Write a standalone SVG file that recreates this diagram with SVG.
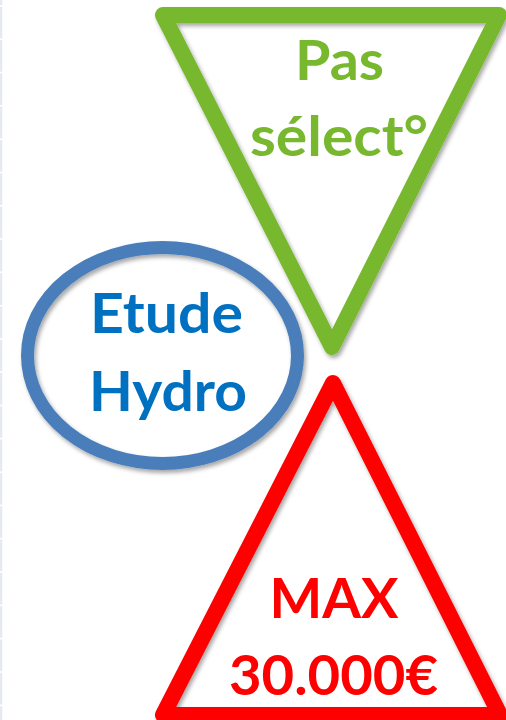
<svg xmlns="http://www.w3.org/2000/svg" width="506" height="720" viewBox="0 0 506 720">
  <defs>
    <filter id="sh" x="-10%" y="-10%" width="125%" height="125%">
      <feDropShadow dx="2" dy="3" stdDeviation="2" flood-color="#000" flood-opacity="0.35"/>
    </filter>
  </defs>
  <style>
    .lbl { font-family: Lato, "Open Sans", "Liberation Sans", sans-serif; font-weight: 700; font-size: 56px; text-anchor: middle; }
    .shape { fill: none; stroke-linejoin: round; filter: url(#sh); }
  </style>
  <rect x="0" y="0" width="506" height="720" fill="#ffffff"/>
  <line x1="1" y1="0" x2="1" y2="720" stroke="#e6e9ef" stroke-width="2.5" stroke-dasharray="31.8 1.5" stroke-dashoffset="26.6"/>

  <g id="connectors"></g>

  <g id="node-pas-select">
    <polygon class="shape" points="163,15 499,15 332,347" stroke="#78b82e" stroke-width="16"/>
    <text class="lbl" x="339.5" y="80" fill="#78b82e" textLength="89" lengthAdjust="spacingAndGlyphs">Pas</text>
    <text class="lbl" x="339" y="156" fill="#78b82e" textLength="178" lengthAdjust="spacingAndGlyphs">sélect°</text>
  </g>

  <g id="node-etude-hydro">
    <ellipse class="shape" cx="162.5" cy="355.5" rx="135" ry="108" stroke="#4a7ebb" stroke-width="13"/>
    <text class="lbl" x="166.5" y="333" fill="#0070c0" textLength="153" lengthAdjust="spacingAndGlyphs">Etude</text>
    <text class="lbl" x="168" y="411" fill="#0070c0" textLength="158" lengthAdjust="spacingAndGlyphs">Hydro</text>
  </g>

  <g id="node-max">
    <polygon class="shape" points="333,383 163,715 500,715" stroke="#ff0000" stroke-width="16"/>
    <text class="lbl" x="334" y="618" fill="#ff0000" textLength="129" lengthAdjust="spacingAndGlyphs">MAX</text>
    <text class="lbl" x="333.5" y="695" fill="#ff0000" textLength="209" lengthAdjust="spacingAndGlyphs">30.000€</text>
  </g>
</svg>
